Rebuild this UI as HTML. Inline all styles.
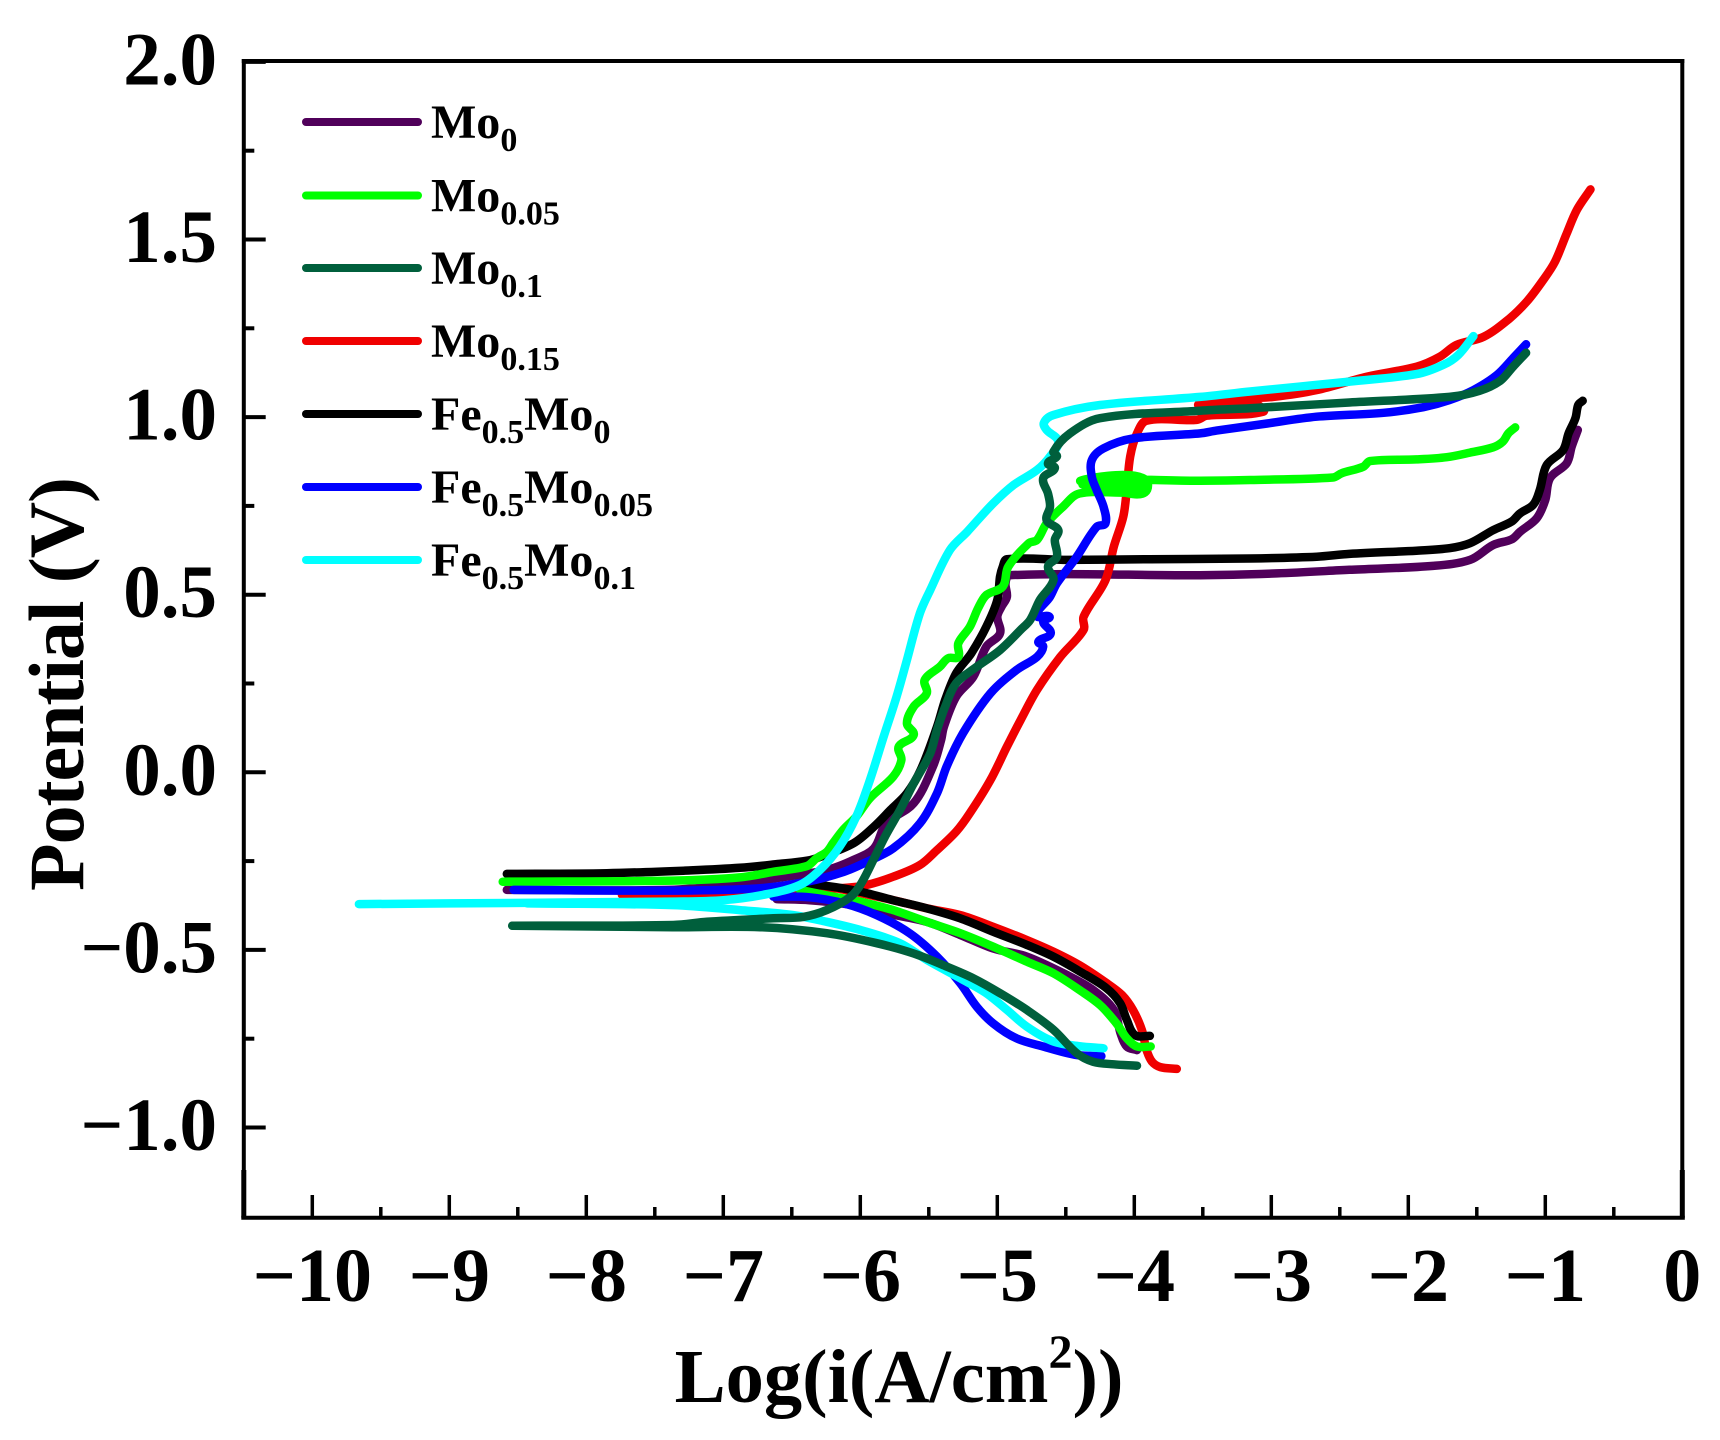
<!DOCTYPE html>
<html lang="en">
<head>
<meta charset="utf-8">
<title>Potentiodynamic polarization curves</title>
<style>
html,body{margin:0;padding:0;background:#fff}
svg{display:block}
text{font-family:"Liberation Serif",serif;font-weight:bold;fill:#000}
</style>
</head>
<body>
<svg id="chart" xmlns="http://www.w3.org/2000/svg" width="1720" height="1440" viewBox="0 0 1720 1440">
  <rect x="0" y="0" width="1720" height="1440" fill="#fff"/>
  <g id="series-layer"></g>
  <g id="axis-layer"></g>
  <text transform="translate(83,684) rotate(-90)" text-anchor="middle" font-size="78" textLength="414" lengthAdjust="spacing">Potential (V)</text>
  <text x="899" y="1402" text-anchor="middle" font-size="76.5">Log(i(A/cm<tspan font-size="48" dy="-34">2</tspan><tspan dy="34">))</tspan></text>
  <g stroke-width="8" stroke-linecap="round">
    <line x1="306" x2="418" y1="122" y2="122" stroke="#50005a"/>
    <text x="431" y="138" font-size="48" stroke="none">Mo<tspan font-size="34" dy="13">0</tspan></text>
    <line x1="306" x2="418" y1="195.5" y2="195.5" stroke="#00ff00"/>
    <text x="431" y="211.5" font-size="48" stroke="none">Mo<tspan font-size="34" dy="13">0.05</tspan></text>
    <line x1="306" x2="418" y1="268" y2="268" stroke="#005f3c"/>
    <text x="431" y="284" font-size="48" stroke="none">Mo<tspan font-size="34" dy="13">0.1</tspan></text>
    <line x1="306" x2="418" y1="341" y2="341" stroke="#f00000"/>
    <text x="431" y="357" font-size="48" stroke="none">Mo<tspan font-size="34" dy="13">0.15</tspan></text>
    <line x1="306" x2="418" y1="414" y2="414" stroke="#000"/>
    <text x="431" y="430" font-size="48" stroke="none">Fe<tspan font-size="34" dy="13">0.5</tspan><tspan dy="-13">Mo</tspan><tspan font-size="34" dy="13">0</tspan></text>
    <line x1="306" x2="418" y1="487" y2="487" stroke="#0000ff"/>
    <text x="431" y="503" font-size="48" stroke="none">Fe<tspan font-size="34" dy="13">0.5</tspan><tspan dy="-13">Mo</tspan><tspan font-size="34" dy="13">0.05</tspan></text>
    <line x1="306" x2="418" y1="560" y2="560" stroke="#00ffff"/>
    <text x="431" y="576" font-size="48" stroke="none">Fe<tspan font-size="34" dy="13">0.5</tspan><tspan dy="-13">Mo</tspan><tspan font-size="34" dy="13">0.1</tspan></text>
  </g>
</svg>
<script>
// Tick values and labels
const xMajorTicks = [-10,-9,-8,-7,-6,-5,-4,-3,-2,-1,0];
const xMinorTicks = [-9.5,-8.5,-7.5,-6.5,-5.5,-4.5,-3.5,-2.5,-1.5,-0.5];
const yMajorTicks = [2,1.5,1,0.5,0,-0.5,-1];
const yMinorTicks = [1.75,1.25,0.75,0.25,-0.25,-0.75];
const yTickLabels = ["2.0","1.5","1.0","0.5","0.0","\u22120.5","\u22121.0"];
const xTickLabels = ["\u221210","\u22129","\u22128","\u22127","\u22126","\u22125","\u22124","\u22123","\u22122","\u22121","0"];

// Series values: [log i, potential]
const mo0Cathodic = [[-3.98,-0.782],[-4.055,-0.772],[-4.10,-0.735],[-4.15,-0.669],[-4.30,-0.613],[-4.49,-0.571],[-4.785,-0.519],[-5.03,-0.496],[-5.27,-0.458],[-5.515,-0.421],[-5.81,-0.397],[-6.05,-0.374],[-6.37,-0.360],[-6.61,-0.357]];
const mo0Anodic = [[-8.58,-0.331],[-7.4,-0.331],[-6.9,-0.315],[-6.61,-0.298],[-6.245,-0.275],[-6.05,-0.247],[-5.90,-0.214],[-5.81,-0.144],[-5.61,-0.087],[-5.47,0.016],[-5.41,0.091],[-5.39,0.128],[-5.30,0.213],[-5.175,0.269],[-5.08,0.354],[-4.98,0.391],[-5.00,0.438],[-4.97,0.466],[-4.93,0.494],[-4.94,0.532],[-4.91,0.555],[-3.52,0.555],[-2.96,0.560],[-2.43,0.570],[-1.82,0.581],[-1.55,0.598],[-1.38,0.640],[-1.245,0.656],[-1.185,0.677],[-1.063,0.715],[-1.00,0.767],[-0.966,0.828],[-0.844,0.870],[-0.807,0.917],[-0.763,0.964]];

const mo005Cathodic = [[-3.88,-0.772],[-3.98,-0.772],[-4.055,-0.749],[-4.13,-0.707],[-4.25,-0.655],[-4.40,-0.613],[-4.59,-0.566],[-4.785,-0.533],[-5.03,-0.491],[-5.27,-0.453],[-5.515,-0.421],[-5.76,-0.388],[-6.00,-0.364],[-6.20,-0.350],[-6.44,-0.331]];
const mo005Anodic = [[-8.61,-0.308],[-7.365,-0.305],[-6.88,-0.296],[-6.635,-0.280],[-6.39,-0.264],[-6.32,-0.242],[-6.245,-0.224],[-6.20,-0.200],[-6.125,-0.162],[-6.03,-0.125],[-5.93,-0.073],[-5.76,-0.012],[-5.70,0.035],[-5.72,0.072],[-5.61,0.105],[-5.66,0.138],[-5.61,0.185],[-5.515,0.222],[-5.53,0.260],[-5.42,0.297],[-5.36,0.321],[-5.285,0.325],[-5.285,0.363],[-5.20,0.410],[-5.14,0.462],[-5.08,0.499],[-4.96,0.523],[-4.92,0.579],[-4.77,0.645],[-4.71,0.654],[-4.64,0.701],[-4.52,0.748],[-4.40,0.785],[-3.945,0.795],[-4.25,0.803],[-4.37,0.811],[-3.9,0.808],[-4.37,0.820],[-3.52,0.821],[-3.155,0.823],[-2.55,0.830],[-2.486,0.842],[-2.33,0.860],[-2.28,0.876],[-1.94,0.881],[-1.72,0.887],[-1.55,0.900],[-1.38,0.915],[-1.31,0.931],[-1.27,0.954],[-1.22,0.971]];

const mo01Cathodic = [[-3.98,-0.826],[-4.15,-0.822],[-4.30,-0.815],[-4.42,-0.791],[-4.59,-0.725],[-4.785,-0.669],[-4.98,-0.622],[-5.175,-0.580],[-5.37,-0.547],[-5.61,-0.510],[-5.88,-0.481],[-6.245,-0.453],[-6.73,-0.436],[-7.365,-0.436],[-8.54,-0.432]];
const mo01Anodic = [[-8.54,-0.432],[-7.365,-0.430],[-7.12,-0.421],[-6.635,-0.411],[-6.415,-0.407],[-6.245,-0.388],[-6.075,-0.352],[-6.00,-0.317],[-5.905,-0.247],[-5.82,-0.181],[-5.71,-0.106],[-5.61,-0.031],[-5.49,0.053],[-5.44,0.119],[-5.38,0.185],[-5.30,0.251],[-5.15,0.297],[-4.98,0.344],[-4.83,0.401],[-4.76,0.429],[-4.69,0.485],[-4.59,0.541],[-4.63,0.579],[-4.565,0.607],[-4.58,0.654],[-4.555,0.682],[-4.64,0.710],[-4.615,0.748],[-4.63,0.785],[-4.665,0.828],[-4.58,0.856],[-4.63,0.870],[-4.565,0.889],[-4.59,0.903],[-4.47,0.954],[-4.25,0.997],[-3.52,1.018],[-3.155,1.025],[-2.43,1.041],[-1.70,1.057],[-1.48,1.074],[-1.33,1.102],[-1.235,1.142],[-1.14,1.181]];

const mo015Cathodic = [[-3.69,-0.835],[-3.81,-0.830],[-3.87,-0.815],[-3.91,-0.782],[-3.945,-0.725],[-4.01,-0.669],[-4.09,-0.627],[-4.20,-0.594],[-4.40,-0.543],[-4.59,-0.505],[-4.785,-0.472],[-5.03,-0.435],[-5.27,-0.402],[-5.515,-0.383],[-5.76,-0.360],[-6.05,-0.336],[-6.295,-0.317]];
const mo015Anodic = [[-7.74,-0.345],[-7.12,-0.348],[-6.1,-0.325],[-5.95,-0.317],[-5.76,-0.294],[-5.565,-0.261],[-5.44,-0.219],[-5.30,-0.167],[-5.20,-0.115],[-5.05,-0.022],[-4.93,0.072],[-4.83,0.147],[-4.71,0.232],[-4.54,0.325],[-4.37,0.401],[-4.37,0.438],[-4.21,0.541],[-4.15,0.635],[-4.08,0.720],[-4.055,0.795],[-4.03,0.889],[-3.98,0.954],[-3.91,0.990],[-3.545,0.992],[-3.47,1.004],[-3.06,1.015],[-3.13,1.039],[-3.51,1.039],[-2.985,1.057],[-2.67,1.076],[-2.30,1.114],[-1.94,1.142],[-1.77,1.170],[-1.65,1.203],[-1.45,1.226],[-1.26,1.278],[-1.136,1.325],[-1.015,1.386],[-0.93,1.437],[-0.844,1.517],[-0.77,1.583],[-0.67,1.641]];

const feMo0Cathodic = [[-3.886,-0.742],[-3.995,-0.740],[-4.055,-0.697],[-4.104,-0.650],[-4.202,-0.608],[-4.396,-0.561],[-4.591,-0.519],[-4.785,-0.486],[-5.029,-0.449],[-5.272,-0.411],[-5.515,-0.383],[-5.759,-0.360],[-6.002,-0.336],[-6.245,-0.320],[-6.44,-0.314]];
const feMo0Anodic = [[-8.58,-0.286],[-7.85,-0.284],[-7.29,-0.277],[-6.88,-0.269],[-6.59,-0.258],[-6.39,-0.249],[-6.29,-0.238],[-6.05,-0.200],[-5.90,-0.153],[-5.78,-0.106],[-5.66,-0.059],[-5.56,0.006],[-5.44,0.128],[-5.38,0.204],[-5.30,0.279],[-5.19,0.335],[-5.08,0.410],[-5.00,0.485],[-4.98,0.551],[-4.96,0.579],[-4.93,0.600],[-4.49,0.598],[-3.886,0.600],[-3.155,0.602],[-2.668,0.607],[-2.43,0.615],[-1.94,0.624],[-1.70,0.631],[-1.55,0.645],[-1.38,0.682],[-1.245,0.706],[-1.185,0.729],[-1.088,0.753],[-1.04,0.795],[-0.99,0.865],[-0.87,0.907],[-0.83,0.954],[-0.78,0.997],[-0.76,1.034],[-0.727,1.046]];

const feMo005Cathodic = [[-4.24,-0.799],[-4.42,-0.796],[-4.665,-0.772],[-4.86,-0.749],[-5.03,-0.707],[-5.15,-0.660],[-5.27,-0.594],[-5.44,-0.519],[-5.64,-0.453],[-5.88,-0.402],[-6.12,-0.369],[-6.37,-0.352],[-6.635,-0.350]];
const feMo005Anodic = [[-8.53,-0.331],[-7.365,-0.333],[-6.755,-0.327],[-6.39,-0.308],[-6.12,-0.280],[-5.95,-0.252],[-5.76,-0.214],[-5.565,-0.144],[-5.44,-0.059],[-5.37,0.016],[-5.25,0.110],[-5.05,0.222],[-4.86,0.288],[-4.71,0.325],[-4.665,0.354],[-4.70,0.368],[-4.61,0.391],[-4.665,0.424],[-4.62,0.438],[-4.71,0.441],[-4.615,0.494],[-4.565,0.532],[-4.42,0.607],[-4.275,0.691],[-4.21,0.701],[-4.225,0.748],[-4.275,0.795],[-4.31,0.832],[-4.31,0.879],[-4.225,0.912],[-4.01,0.940],[-3.52,0.954],[-3.40,0.962],[-3.03,0.982],[-2.67,1.001],[-2.18,1.012],[-1.89,1.028],[-1.70,1.048],[-1.525,1.076],[-1.355,1.118],[-1.235,1.166],[-1.14,1.205]];

const feMo01Cathodic = [[-4.225,-0.777],[-4.40,-0.771],[-4.59,-0.758],[-4.785,-0.716],[-4.93,-0.669],[-5.08,-0.622],[-5.27,-0.580],[-5.515,-0.528],[-5.71,-0.481],[-6.00,-0.444],[-6.245,-0.421],[-6.49,-0.402],[-6.88,-0.388],[-7.365,-0.374],[-8.43,-0.369]];
const feMo01Anodic = [[-9.66,-0.371],[-7.365,-0.364],[-7.00,-0.360],[-6.68,-0.343],[-6.44,-0.317],[-6.295,-0.275],[-6.15,-0.209],[-6.03,-0.125],[-5.93,-0.022],[-5.83,0.100],[-5.735,0.213],[-5.66,0.316],[-5.565,0.448],[-5.49,0.513],[-5.345,0.626],[-5.22,0.677],[-5.03,0.757],[-4.88,0.809],[-4.71,0.851],[-4.615,0.889],[-4.555,0.931],[-4.64,0.964],[-4.66,0.984],[-4.59,1.006],[-4.25,1.034],[-3.52,1.057],[-3.155,1.072],[-2.43,1.100],[-1.94,1.121],[-1.745,1.147],[-1.635,1.175],[-1.525,1.228]];

// Axis functions
function xScale(v){ return 1682.3 + 137 * v; }
function yScale(v){ return 772.3 - 355.2 * v; }

const NS = 'http://www.w3.org/2000/svg';
const seriesLayer = document.getElementById('series-layer');
const axisLayer = document.getElementById('axis-layer');

// Smooth path through the scaled points; handles are limited by segment length so short segments never overshoot.
function smoothPath(points){
  const pts = points.map(function(p){ return [xScale(p[0]), yScale(p[1])]; });
  const tangents = pts.map(function(p, i){
    const a = pts[Math.max(i - 1, 0)];
    const b = pts[Math.min(i + 1, pts.length - 1)];
    const dx = b[0] - a[0];
    const dy = b[1] - a[1];
    const len = Math.hypot(dx, dy) || 1;
    return [dx / len, dy / len];
  });
  let d = 'M' + pts[0][0].toFixed(1) + ' ' + pts[0][1].toFixed(1);
  for (let i = 1; i < pts.length; i++){
    const p0 = pts[i - 1];
    const p1 = pts[i];
    const h = Math.hypot(p1[0] - p0[0], p1[1] - p0[1]) / 3;
    const c1x = p0[0] + tangents[i - 1][0] * h;
    const c1y = p0[1] + tangents[i - 1][1] * h;
    const c2x = p1[0] - tangents[i][0] * h;
    const c2y = p1[1] - tangents[i][1] * h;
    d += ' C' + c1x.toFixed(1) + ' ' + c1y.toFixed(1) + ' ' + c2x.toFixed(1) + ' ' + c2y.toFixed(1) + ' ' + p1[0].toFixed(1) + ' ' + p1[1].toFixed(1);
  }
  return d;
}

function drawBranch(points, color, name){
  const el = document.createElementNS(NS, 'path');
  el.setAttribute('d', smoothPath(points));
  el.setAttribute('fill', 'none');
  el.setAttribute('stroke', color);
  el.setAttribute('stroke-width', '8.5');
  el.setAttribute('stroke-linecap', 'round');
  el.setAttribute('stroke-linejoin', 'round');
  
  
  seriesLayer.appendChild(el);
}

drawBranch(mo0Cathodic, '#50005a', 'mo0-cathodic-curve');
drawBranch(mo0Anodic, '#50005a', 'mo0-anodic-curve');
drawBranch(mo015Cathodic, '#f00000', 'mo0-15-cathodic-curve');
drawBranch(mo015Anodic, '#f00000', 'mo0-15-anodic-curve');
drawBranch(feMo0Cathodic, '#000000', 'fe-mo0-cathodic-curve');
drawBranch(feMo0Anodic, '#000000', 'fe-mo0-anodic-curve');
drawBranch(mo005Cathodic, '#00ff00', 'mo0-05-cathodic-curve');
drawBranch(mo005Anodic, '#00ff00', 'mo0-05-anodic-curve');
drawBranch(feMo005Cathodic, '#0000ff', 'fe-mo0-05-cathodic-curve');
drawBranch(feMo005Anodic, '#0000ff', 'fe-mo0-05-anodic-curve');
drawBranch(feMo01Cathodic, '#00ffff', 'fe-mo0-1-cathodic-curve');
drawBranch(feMo01Anodic, '#00ffff', 'fe-mo0-1-anodic-curve');
drawBranch(mo01Cathodic, '#005f3c', 'mo0-1-cathodic-curve');
drawBranch(mo01Anodic, '#005f3c', 'mo0-1-anodic-curve');

function drawRule(x1, y1, x2, y2, width, name){
  const el = document.createElementNS(NS, 'line');
  el.setAttribute('x1', x1);
  el.setAttribute('y1', y1);
  el.setAttribute('x2', x2);
  el.setAttribute('y2', y2);
  el.setAttribute('stroke', '#000');
  el.setAttribute('stroke-width', width);
  
  
  axisLayer.appendChild(el);
}

function drawLabel(x, y, anchor, size, content, name){
  const el = document.createElementNS(NS, 'text');
  el.setAttribute('x', x);
  el.setAttribute('y', y);
  el.setAttribute('text-anchor', anchor);
  el.setAttribute('font-size', size);
  el.textContent = content;
  
  
  axisLayer.appendChild(el);
}

const plotLeft = xScale(-10.5);
const plotRight = xScale(0);
const plotTop = 61;
const plotBottom = 1217.7;

drawRule(plotLeft, plotTop - 2, plotLeft, plotBottom, 4, 'left-axis-line');
drawRule(plotRight, plotTop - 2, plotRight, plotBottom, 4, 'right-axis-line');
drawRule(plotLeft, 1170, plotLeft, plotBottom, 5, 'left-axis-lower-segment');
drawRule(plotRight, 1170, plotRight, plotBottom, 5, 'right-axis-lower-segment');
drawRule(plotLeft - 2, plotTop, plotRight + 2, plotTop, 4, 'top-axis-line');
drawRule(plotLeft - 2.5, plotBottom, plotRight + 2.5, plotBottom, 4, 'x-axis-line');

xMajorTicks.forEach(function(v, i){
  if (v !== 0) drawRule(xScale(v), plotBottom, xScale(v), 1195, 3.5, 'x-major-tick');
  drawLabel(xScale(v), 1301, 'middle', 76, xTickLabels[i], 'x-tick-label');
});
xMinorTicks.forEach(function(v){
  drawRule(xScale(v), plotBottom, xScale(v), 1207, 3.5, 'x-minor-tick');
});
yMajorTicks.forEach(function(v, i){
  drawRule(plotLeft, yScale(v), 265.7, yScale(v), 4, 'y-major-tick');
  drawLabel(217, yScale(v) + 22.5, 'end', 75, yTickLabels[i], 'y-tick-label');
});
yMinorTicks.forEach(function(v){
  drawRule(plotLeft, yScale(v), 254.3, yScale(v), 4, 'y-minor-tick');
});
</script>
</body>
</html>
